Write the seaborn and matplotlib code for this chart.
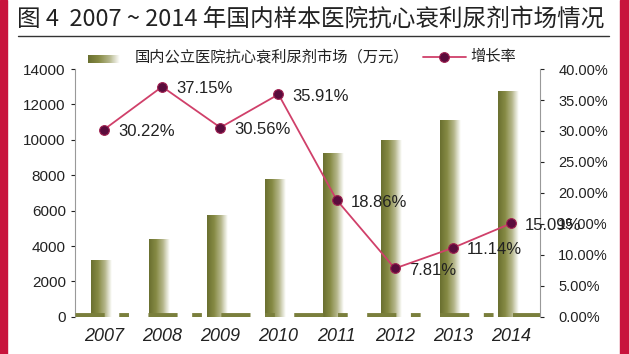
import numpy as np
import pandas as pd
import matplotlib
matplotlib.use('Agg')
import matplotlib.pyplot as plt
import seaborn as sns
from matplotlib.colors import LinearSegmentedColormap
from matplotlib.lines import Line2D
from matplotlib.patches import Rectangle

years = ['2007', '2008', '2009', '2010', '2011', '2012', '2013', '2014']
market = [3200, 4390, 5730, 7790, 9260, 9990, 11100, 12770]   # 万元
growth = [30.22, 37.15, 30.56, 35.91, 18.86, 7.81, 11.14, 15.09]  # %

df = pd.DataFrame({'year': years, 'market': market, 'growth': growth})
df['idx'] = np.arange(len(df))

sns.set_style('white')
plt.rcParams['font.family'] = ['Liberation Sans', 'Noto Sans CJK SC', 'DejaVu Sans']
cjk = ['Noto Sans CJK SC', 'DejaVu Sans']

olive = '#7a7f3c'
line_col = '#d0406a'
dot_col = '#5a0c3c'
grad = LinearSegmentedColormap.from_list('g', ['#6a7030', '#868a44', '#b4b68a', '#ffffff'])

fig = plt.figure(figsize=(6.29, 3.54), dpi=100)
ax = fig.add_axes([0.119, 0.105, 0.74, 0.70])

sns.barplot(data=df, x='year', y='market', ax=ax, width=0.36, color=olive)

# gradient fill for each bar
g = np.linspace(0, 1, 64).reshape(1, -1)
for p in ax.patches:
    x0, w, h = p.get_x() - 0.05, p.get_width(), p.get_height()
    p.set_x(x0)
    p.set_facecolor('none')
    p.set_edgecolor('none')
    im = ax.imshow(g, extent=[x0, x0 + w, 0, h], aspect='auto', cmap=grad, zorder=2)
    im.set_clip_path(p)

# broken "floor" under the bars
ax.axhline(80, color=olive, lw=3.5, dashes=(6, 3, 2, 4), zorder=3, solid_capstyle='butt')

ax.set_xlim(-0.5, 7.5)
ax.set_ylim(0, 14000)
ax.set_yticks(range(0, 14001, 2000))
ax.set_xlabel('')
ax.set_ylabel('')
ax.tick_params(axis='y', labelsize=11, colors='#222222', length=3, width=0.8, direction='out', left=True)
ax.tick_params(axis='x', length=0, pad=8)
for t in ax.get_xticklabels():
    t.set_fontsize(13)
    t.set_fontstyle('italic')
    t.set_color('#222222')
for s in ['top', 'right', 'bottom']:
    ax.spines[s].set_visible(False)
ax.spines['left'].set_color('#999999')
ax.spines['left'].set_linewidth(0.8)

ax2 = ax.twinx()
sns.lineplot(data=df, x='idx', y='growth', ax=ax2, color=line_col, lw=1.3,
             marker='o', markersize=7, markerfacecolor=dot_col,
             markeredgecolor='#a02050', markeredgewidth=0.8, zorder=5)
ax2.set_ylim(0, 40)
ax2.set_yticks(np.arange(0, 40.1, 5))
ax2.set_yticklabels([f'{v:.2f}%' for v in np.arange(0, 40.1, 5)])
ax2.set_xlim(-0.5, 7.5)
ax2.set_ylabel('')
ax2.set_xlabel('')
ax2.tick_params(axis='y', labelsize=10.5, colors='#222222', length=3, width=0.8, right=True, pad=10)
for s in ['top', 'left', 'bottom']:
    ax2.spines[s].set_visible(False)
ax2.spines['right'].set_color('#999999')
ax2.spines['right'].set_linewidth(0.8)

for i, r in zip(df['idx'], df['growth']):
    ax2.annotate(f'{r:.2f}%', (i, r), xytext=(10, -1.5), textcoords='offset points',
                 va='center', ha='left', fontsize=12, color='#222222')

# title and underline
fig.text(0.027, 0.945, '图 4  2007 ~ 2014 年国内样本医院抗心衰利尿剂市场情况',
         family=cjk, fontsize=17, color='#222222', va='center', ha='left')
fig.add_artist(Line2D([0.028, 0.968], [0.898, 0.898], color='#333333', lw=1))

# legend
lax = fig.add_axes([88 / 629, 1 - 63 / 354, 32 / 629, 8 / 354])
lax.imshow(g, aspect='auto', cmap=grad)
lax.axis('off')
fig.text(135 / 629, 1 - 57 / 354, '国内公立医院抗心衰利尿剂市场（万元）',
         family=cjk, fontsize=11, color='#222222', va='center', ha='left')
fig.add_artist(Line2D([423 / 629, 466 / 629], [1 - 57 / 354] * 2, color=line_col, lw=1.3))
fig.add_artist(Line2D([444 / 629], [1 - 57 / 354], marker='o', markersize=7,
                      markerfacecolor=dot_col, markeredgecolor='#a02050', markeredgewidth=0.8))
fig.text(470 / 629, 1 - 57 / 354, '增长率', family=cjk, fontsize=11, color='#222222',
         va='center', ha='left')

# red side borders
fig.add_artist(Rectangle((0, 0), 7 / 629, 1, transform=fig.transFigure, color='#c8143c'))
fig.add_artist(Rectangle((620 / 629, 0), 9 / 629, 1, transform=fig.transFigure, color='#c8143c'))

fig.savefig('out.png', dpi=100)
